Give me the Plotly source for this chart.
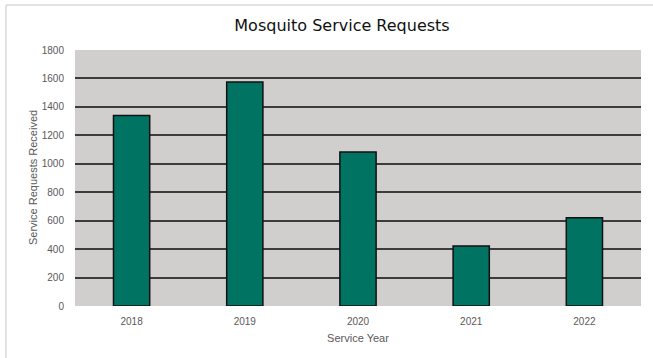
import plotly.graph_objects as go

years = ["2018", "2019", "2020", "2021", "2022"]
requests = [1340, 1575, 1083, 422, 620]
y_ticks = [0, 200, 400, 600, 800, 1000, 1200, 1400, 1600, 1800]

W, H = 653, 358
L, R, T, B = 75, 12, 50, 52

fig = go.Figure(
    go.Bar(
        x=years,
        y=requests,
        marker=dict(color="#007363", line=dict(color="#111111", width=1.5)),
        width=0.32,
    )
)

# light frame along the top and left edges of the chart area
pw, ph = W - L - R, H - T - B
def px_x(p):
    return (p - L) / pw
def px_y(p):
    return (H - B - p) / ph

fig.add_shape(type="line", xref="paper", yref="paper",
              x0=px_x(6), x1=px_x(W), y0=px_y(5), y1=px_y(5),
              line=dict(color="#d9d9d9", width=1.5))
fig.add_shape(type="line", xref="paper", yref="paper",
              x0=px_x(6), x1=px_x(6), y0=px_y(5), y1=px_y(H),
              line=dict(color="#d9d9d9", width=1.5))

axis_font = dict(family="Liberation Sans", size=11, color="#595959")

# y-axis title placed as a rotated annotation
fig.add_annotation(text="Service Requests Received", xref="paper", yref="paper",
                   x=px_x(33), y=0.5, textangle=-90, showarrow=False,
                   xanchor="center", yanchor="middle", font=axis_font)

fig.update_layout(
    width=W, height=H,
    margin=dict(l=L, r=R, t=T, b=B),
    paper_bgcolor="white",
    plot_bgcolor="#d0cfcd",
    showlegend=False,
    title=dict(text="Mosquito Service Requests", x=342 / W, xanchor="center",
               y=1 - 25 / H, yanchor="middle",
               font=dict(family="DejaVu Sans", size=16, color="#111111")),
    xaxis=dict(
        title=dict(text="Service Year", font=axis_font, standoff=8),
        tickfont=dict(family="Liberation Sans", size=10, color="#595959"),
        showgrid=False, zeroline=False, showline=False, ticks="",
        ticklabelstandoff=8,
    ),
    yaxis=dict(
        tickfont=dict(family="Liberation Sans", size=10, color="#595959"),
        range=[0, 1800], tickvals=y_ticks,
        showgrid=True, gridcolor="#3c3c3c", gridwidth=1.5,
        zeroline=False, showline=False, ticks="",
        ticklabelstandoff=10,
    ),
    bargap=0.68,
)

fig.write_html("out.html")
